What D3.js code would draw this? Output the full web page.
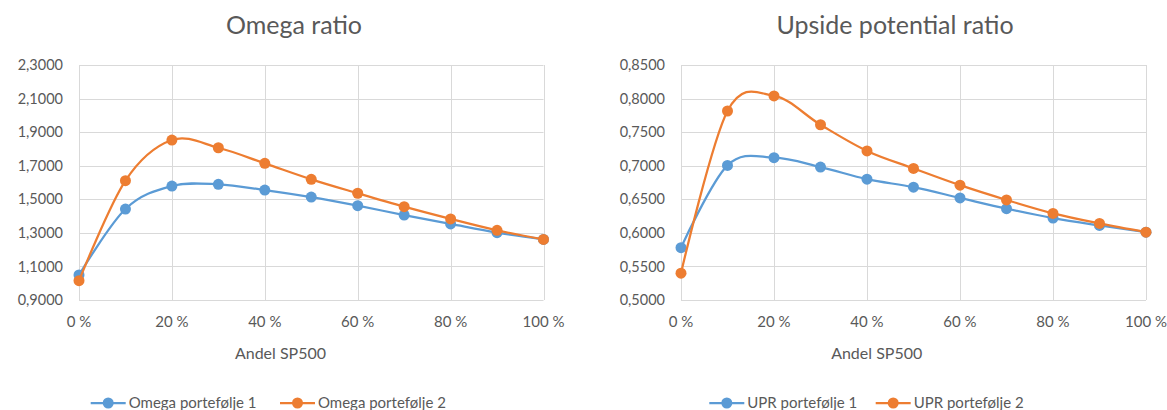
<!DOCTYPE html>
<html>
<head>
<meta charset="utf-8">
<script src="https://cdn.jsdelivr.net/npm/d3@7"></script>
<style>
  html, body { margin: 0; padding: 0; background: #fff; }
  svg { display: block; }
  text { font-family: Lato, "Open Sans", sans-serif; fill: #595959; }
</style>
</head>
<body>
<svg id="chart" width="1167" height="410"></svg>
<script>
// Share of SP500 in the portfolio (percent)
const shares = [0, 10, 20, 30, 40, 50, 60, 70, 80, 90, 100];
const xTicks = [0, 20, 40, 60, 80, 100];

// Omega ratio per portfolio
const omega1 = [1.049, 1.442, 1.579, 1.589, 1.555, 1.513, 1.462, 1.406, 1.353, 1.301, 1.261];
const omega2 = [1.015, 1.611, 1.853, 1.807, 1.714, 1.619, 1.536, 1.456, 1.383, 1.315, 1.261];
const omegaTicks = [0.9, 1.1, 1.3, 1.5, 1.7, 1.9, 2.1, 2.3];

// Upside potential ratio per portfolio
const upr1 = [0.578, 0.7005, 0.712, 0.698, 0.680, 0.668, 0.652, 0.636, 0.622, 0.611, 0.601];
const upr2 = [0.540, 0.7815, 0.804, 0.761, 0.722, 0.696, 0.671, 0.649, 0.629, 0.614, 0.601];
const uprTicks = [0.50, 0.55, 0.60, 0.65, 0.70, 0.75, 0.80, 0.85];

const seriesColors = ["#5B9BD5", "#ED7D31"];

const panels = [
  {
    title: "Omega ratio", titleX: 294,
    xRange: [79, 543.5], yDomain: [0.9, 2.3], yTicks: omegaTicks,
    series: [omega1, omega2],
    axisTitleX: 280.5,
    legend: [
      { name: "Omega portefølje 1", lineX: 90.7 },
      { name: "Omega portefølje 2", lineX: 280 }
    ]
  },
  {
    title: "Upside potential ratio", titleX: 895,
    xRange: [681, 1146], yDomain: [0.5, 0.85], yTicks: uprTicks,
    series: [upr1, upr2],
    axisTitleX: 876.7,
    legend: [
      { name: "UPR portefølje 1", lineX: 709.3 },
      { name: "UPR portefølje 2", lineX: 875.7 }
    ]
  }
];

const svg = d3.select("#chart");
const plotTop = 65, plotBottom = 300;
const fmtY = d => d3.format(".4f")(d).replace(".", ",");
const fmtX = d => d + " %";

panels.forEach(p => {
  const x = d3.scaleLinear().domain([0, 100]).range(p.xRange);
  const y = d3.scaleLinear().domain(p.yDomain).range([plotBottom, plotTop]);
  const g = svg.append("g");

  // gridlines
  g.append("g").selectAll("line.h").data(p.yTicks).join("line")
    .attr("x1", p.xRange[0]).attr("x2", p.xRange[1])
    .attr("y1", d => Math.round(y(d)) + 0.5).attr("y2", d => Math.round(y(d)) + 0.5)
    .attr("stroke", "#D9D9D9").attr("stroke-width", 1);
  g.append("g").selectAll("line.v").data(xTicks).join("line")
    .attr("x1", d => Math.round(x(d)) + 0.5).attr("x2", d => Math.round(x(d)) + 0.5)
    .attr("y1", plotTop).attr("y2", plotBottom)
    .attr("stroke", "#D9D9D9").attr("stroke-width", 1);

  // y tick labels
  g.append("g").selectAll("text").data(p.yTicks).join("text")
    .attr("x", p.xRange[0] - 16).attr("y", d => y(d))
    .attr("dy", "0.35em").attr("text-anchor", "end")
    .attr("font-size", 14.5).text(fmtY);

  // x tick labels
  g.append("g").selectAll("text").data(xTicks).join("text")
    .attr("x", d => x(d)).attr("y", 322)
    .attr("dy", "0.35em").attr("text-anchor", "middle")
    .attr("font-size", 15).text(fmtX);

  // titles
  g.append("text").attr("x", p.titleX).attr("y", 25).attr("dy", "0.35em")
    .attr("text-anchor", "middle").attr("font-size", 25).text(p.title);
  g.append("text").attr("x", p.axisTitleX).attr("y", 353).attr("dy", "0.35em")
    .attr("text-anchor", "middle").attr("font-size", 16).text("Andel SP500");

  // series: smoothed line then markers
  const line = d3.line()
    .x((d, i) => x(shares[i])).y(d => y(d))
    .curve(d3.curveCardinal.tension(0));
  p.series.forEach((vals, si) => {
    g.append("path").datum(vals)
      .attr("d", line).attr("fill", "none")
      .attr("stroke", seriesColors[si]).attr("stroke-width", 2.25)
      .attr("stroke-linejoin", "round");
    g.append("g").selectAll("circle").data(vals).join("circle")
      .attr("cx", (d, i) => x(shares[i])).attr("cy", d => y(d))
      .attr("r", 5.5).attr("fill", seriesColors[si]);
  });

  // legend
  p.legend.forEach((item, si) => {
    const ly = 403;
    g.append("line").attr("x1", item.lineX).attr("x2", item.lineX + 35)
      .attr("y1", ly).attr("y2", ly)
      .attr("stroke", seriesColors[si]).attr("stroke-width", 2.25);
    g.append("circle").attr("cx", item.lineX + 17.5).attr("cy", ly).attr("r", 5.5)
      .attr("fill", seriesColors[si]);
    g.append("text").attr("x", item.lineX + 38).attr("y", ly).attr("dy", "0.35em")
      .attr("font-size", 15).text(item.name);
  });
});
</script>
</body>
</html>
